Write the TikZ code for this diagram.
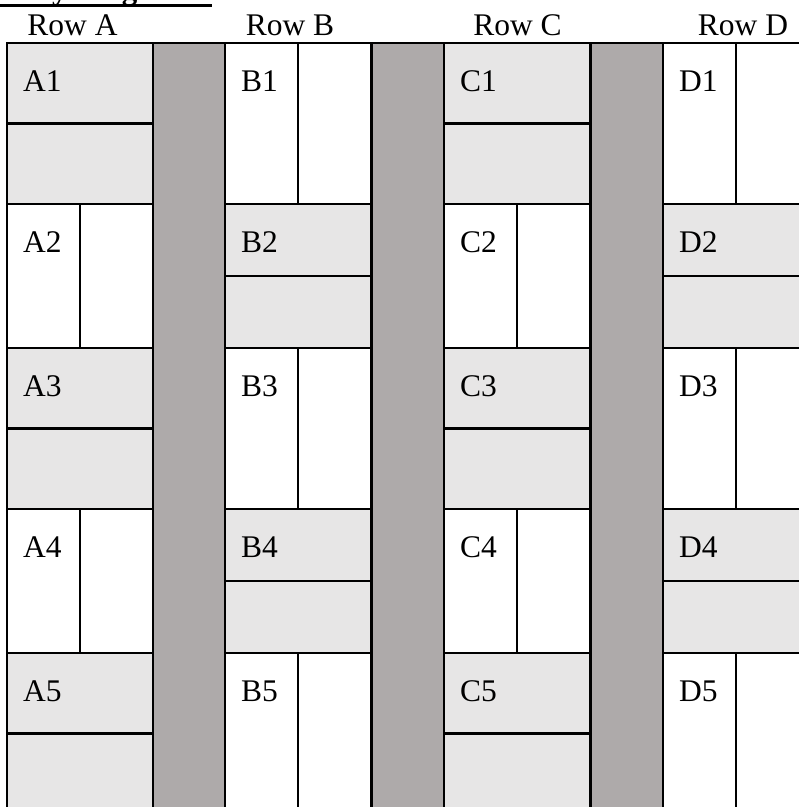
\documentclass[tikz,border=0pt]{standalone}
\usepackage{fontspec}
\setmainfont{Liberation Serif}
\usetikzlibrary{calc,positioning}
\definecolor{brickgray}{HTML}{E7E6E6}
\definecolor{bargray}{HTML}{AEAAAA}

\begin{document}
\begin{tikzpicture}[x=1pt,y=-1pt, line width=2.2pt,
    every node/.style={font=\fontsize{31.5}{36}\selectfont},
    cell/.style={draw, rectangle, anchor=north west, minimum width=146pt, outer sep=0pt, inner sep=0pt},
    hbrick/.style={cell, fill=brickgray, path picture={\draw[line width=2.2pt] (path picture bounding box.west) -- (path picture bounding box.east);}},
    vbrick/.style={cell, fill=white, path picture={\draw[line width=2.2pt] (path picture bounding box.north) -- (path picture bounding box.south);}},
    tall/.style={minimum height=161pt},
    short/.style={minimum height=144pt},
    lbl/.style={anchor=base west, xshift=15pt, yshift=-48pt, inner sep=0pt},
    bar/.style={draw, rectangle, fill=bargray, anchor=north west, minimum width=72pt, minimum height=800pt, outer sep=0pt, inner sep=0pt},
    head/.style={anchor=base, inner sep=0pt}]
    \useasboundingbox (0,0) rectangle (799,807);
    % title (cut off at the top)
    \node[font=\bfseries\fontsize{31}{36}\selectfont, anchor=base west, inner sep=0pt] (title) at (8,-0.5) {Play Diagram};
    \draw[line width=2.6pt] (0,5.5) -- (212,5.5);
    % column heads
    \node[head] (rowA) at (72.5,35) {Row A};
    \node[head] (rowB) at (290,35) {Row B};
    \node[head] (rowC) at (517.5,35) {Row C};
    \node[head] (rowD) at (743,35) {Row D};
    % dark bars
    \node[bar] (barAB) at (153,43) {};
    \node[bar] (barBC) at (372,43) {};
    \node[bar] (barCD) at (591,43) {};
    % Row A
    \node[hbrick, tall, label={[lbl]north west:A1}] (A1) at (7,43) {};
    \node[vbrick, short, label={[lbl]north west:A2}] (A2) at (7,204) {};
    \node[hbrick, tall, label={[lbl]north west:A3}] (A3) at (7,348) {};
    \node[vbrick, short, label={[lbl]north west:A4}] (A4) at (7,509) {};
    \node[hbrick, tall, label={[lbl]north west:A5}] (A5) at (7,653) {};
    % Row B
    \node[vbrick, tall, label={[lbl]north west:B1}] (B1) at (225,43) {};
    \node[hbrick, short, label={[lbl]north west:B2}] (B2) at (225,204) {};
    \node[vbrick, tall, label={[lbl]north west:B3}] (B3) at (225,348) {};
    \node[hbrick, short, label={[lbl]north west:B4}] (B4) at (225,509) {};
    \node[vbrick, tall, label={[lbl]north west:B5}] (B5) at (225,653) {};
    % Row C
    \node[hbrick, tall, label={[lbl]north west:C1}] (C1) at (444,43) {};
    \node[vbrick, short, label={[lbl]north west:C2}] (C2) at (444,204) {};
    \node[hbrick, tall, label={[lbl]north west:C3}] (C3) at (444,348) {};
    \node[vbrick, short, label={[lbl]north west:C4}] (C4) at (444,509) {};
    \node[hbrick, tall, label={[lbl]north west:C5}] (C5) at (444,653) {};
    % Row D
    \node[vbrick, tall, label={[lbl]north west:D1}] (D1) at (663,43) {};
    \node[hbrick, short, label={[lbl]north west:D2}] (D2) at (663,204) {};
    \node[vbrick, tall, label={[lbl]north west:D3}] (D3) at (663,348) {};
    \node[hbrick, short, label={[lbl]north west:D4}] (D4) at (663,509) {};
    \node[vbrick, tall, label={[lbl]north west:D5}] (D5) at (663,653) {};
\end{tikzpicture}
\end{document}
